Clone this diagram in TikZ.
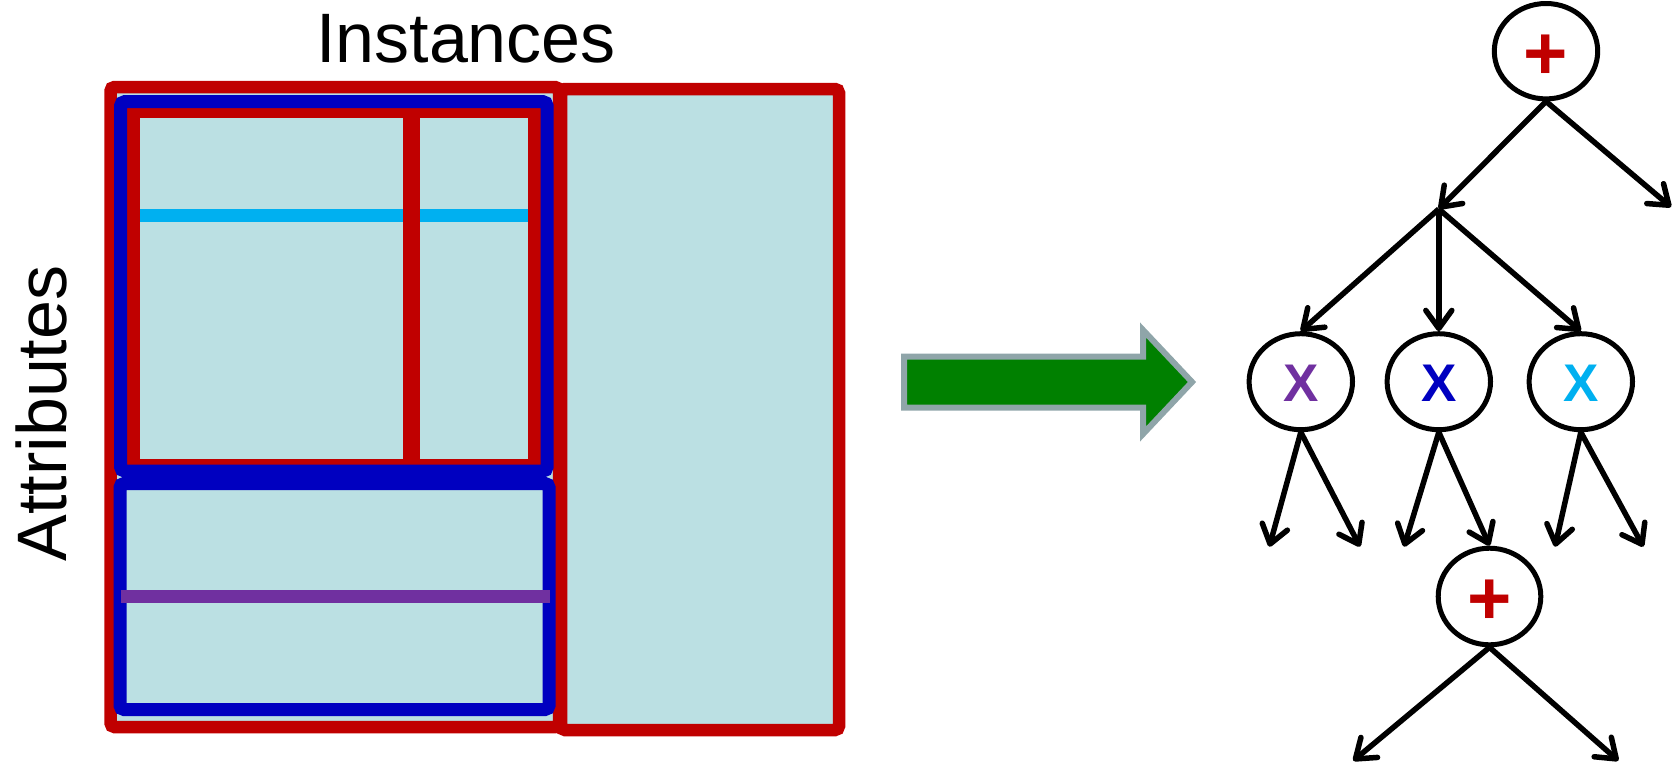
\documentclass[tikz,border=0pt]{standalone}
\usepackage{fontspec}
\setmainfont{Liberation Sans}
\usetikzlibrary{arrows.meta,shapes.geometric}

\definecolor{cellfill}{HTML}{BBE0E3}
\definecolor{darkred}{HTML}{C00000}
\definecolor{darkblue}{HTML}{0000C0}
\definecolor{skyblue}{HTML}{00B0F0}
\definecolor{violet}{HTML}{7030A0}
\definecolor{arrowgreen}{HTML}{008000}
\definecolor{arrowrim}{HTML}{8FA5A9}

\tikzset{
  redbox/.style={draw=darkred, line width=12.5pt, rounded corners=4pt},
  bluebox/.style={draw=darkblue, line width=13pt, rounded corners=4pt},
  opnode/.style={ellipse, draw=black, line width=5pt, inner sep=0pt,
    minimum width=103.4pt, minimum height=96pt},
  oplabel/.style={anchor=base, inner sep=0pt, font=\bfseries\fontsize{53}{53}\selectfont},
  pluslabel/.style={anchor=base, inner sep=0pt, text=darkred,
    font=\bfseries\fontsize{76}{76}\selectfont},
  treearrow/.style={line width=5.5pt,
    -{Straight Barb[length=18pt,width=26pt,round]}},
  axislabel/.style={inner sep=0pt, font=\fontsize{70}{70}\selectfont}
}

\begin{document}
\begin{tikzpicture}[x=1pt,y=-1pt]
\useasboundingbox (0,0) rectangle (1672,764);

% ---- data table -------------------------------------------------------
% outer instance blocks
\draw[redbox, fill=cellfill] (110.5,87) rectangle (559,727);
\draw[redbox, fill=cellfill] (561,89) rectangle (839,730);

% attribute blocks (fill first, borders later)
\fill[cellfill] (120.6,101.7) rectangle (547,471);
\fill[cellfill] (120,483.5) rectangle (549,709.5);

% attribute row inside the upper block
\draw[skyblue, line width=13pt] (133,215) -- (534,215);

% nested instance block and its split
\draw[draw=darkred, line width=13pt] (133.7,111.2) rectangle (534.2,465.5);
\draw[darkred, line width=16.5pt] (411.5,111) -- (411.5,465);

% attribute block borders
\draw[bluebox] (120.6,101.7) rectangle (547,471);
\draw[bluebox] (120,483.5) rectangle (549,709.5);

% attribute row inside the lower block
\draw[violet, line width=13pt] (121,596) -- (550,596);

% axis labels
\node[axislabel, anchor=base] (inst) at (466,62.7) {Instances};
\node[axislabel, anchor=base, rotate=90] (attr) at (66.7,413.5) {Attributes};

% ---- transition arrow -------------------------------------------------
\draw[fill=arrowgreen, draw=arrowrim, line width=6pt, line join=miter]
  (904,356.5) -- (1143,356.5) -- (1143,330) -- (1192,382)
  -- (1143,434) -- (1143,407.5) -- (904,407.5) -- cycle;

% ---- expression tree --------------------------------------------------
\node[opnode, minimum height=95.4pt] (top) at (1546,51.2) {};
\node[opnode] (e1) at (1300.8,381.7) {};
\node[opnode] (e2) at (1438.8,381.7) {};
\node[opnode] (e3) at (1580.8,381.7) {};
\node[opnode, minimum width=102.6pt, minimum height=96.6pt] (p2) at (1489.5,596.5) {};

\node[pluslabel] (topl) at (1546,79.2) {+};
\node[oplabel, text=violet] (e1l) at (1300.9,401.7) {X};
\node[oplabel, text=darkblue] (e2l) at (1438.8,401.7) {X};
\node[oplabel, text=skyblue] (e3l) at (1580.9,401.7) {X};
\node[pluslabel] (p2l) at (1489.5,624.5) {+};

\coordinate (j) at (1438.8,209);
\coordinate (tr) at (1671,207);
\coordinate (a1) at (1269.3,546.7);
\coordinate (a2) at (1360,546.7);
\coordinate (a3) at (1404,546.7);
\coordinate (a4) at (1555,546.7);
\coordinate (a5) at (1643.3,546.7);
\coordinate (b1) at (1353.3,760.7);
\coordinate (b2) at (1618.3,760.7);

\draw[treearrow] (top.south) -- (j);
\draw[treearrow] (top.south) -- (tr);
\draw[treearrow] (j) -- (e1.north);
\draw[treearrow] (j) -- (e2.north);
\draw[treearrow] (j) -- (e3.north);
\draw[treearrow] (e1.south) -- (a1);
\draw[treearrow] (e1.south) -- (a2);
\draw[treearrow] (e2.south) -- (a3);
\draw[treearrow] (e2.south) -- (p2.north);
\draw[treearrow] (e3.south) -- (a4);
\draw[treearrow] (e3.south) -- (a5);
\draw[treearrow] (p2.south) -- (b1);
\draw[treearrow] (p2.south) -- (b2);
\end{tikzpicture}
\end{document}
